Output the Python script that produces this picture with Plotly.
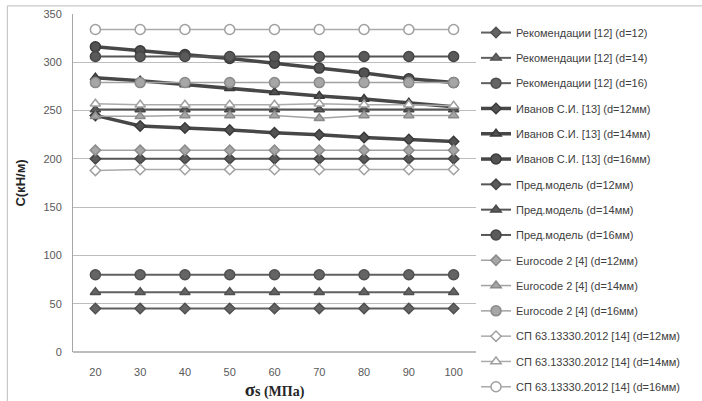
import plotly.graph_objects as go

# Stress in reinforcement, MPa
sigma_s = [20, 30, 40, 50, 60, 70, 80, 90, 100]

# Bond stiffness C, kN/m
rek_12 = [45, 45, 45, 45, 45, 45, 45, 45, 45]
rek_14 = [62, 62, 62, 62, 62, 62, 62, 62, 62]
rek_16 = [80, 80, 80, 80, 80, 80, 80, 80, 80]
ivanov_12 = [245, 234, 232, 230, 227, 225, 222, 220, 218]
ivanov_14 = [284, 281, 277, 273, 269, 265, 262, 258, 254]
ivanov_16 = [316, 312, 308, 304, 299, 294, 289, 283, 279]
model_12 = [200, 200, 200, 200, 200, 200, 200, 200, 200]
model_14 = [251, 251, 251, 251, 251, 251, 251, 251, 251]
model_16 = [306, 306, 306, 306, 306, 306, 306, 306, 306]
ec2_12 = [209, 209, 209, 209, 209, 209, 209, 209, 209]
ec2_14 = [244, 244, 245, 245, 245, 242, 245, 245, 245]
ec2_16 = [279, 279, 279, 279, 279, 279, 279, 279, 279]
sp_12 = [188, 189, 189, 189, 189, 189, 189, 189, 189]
sp_14 = [257, 256, 256, 256, 256, 257, 256, 256, 255]
sp_16 = [334, 334, 334, 334, 334, 334, 334, 334, 334]

names = [
    "Рекомендации [12] (d=12)", "Рекомендации [12] (d=14)", "Рекомендации [12] (d=16)",
    "Иванов С.И. [13] (d=12мм)", "Иванов С.И. [13] (d=14мм)", "Иванов С.И. [13] (d=16мм)",
    "Пред.модель (d=12мм)", "Пред.модель (d=14мм)", "Пред.модель (d=16мм)",
    "Eurocode 2 [4] (d=12мм)", "Eurocode 2 [4] (d=14мм)", "Eurocode 2 [4] (d=16мм)",
    "СП 63.13330.2012 [14] (d=12мм)", "СП 63.13330.2012 [14] (d=14мм)", "СП 63.13330.2012 [14] (d=16мм)",
]
values = [rek_12, rek_14, rek_16, ivanov_12, ivanov_14, ivanov_16,
          model_12, model_14, model_16, ec2_12, ec2_14, ec2_16,
          sp_12, sp_14, sp_16]

symbols = ["diamond", "triangle-up", "circle"]
sizes = [8, 9, 10]

# family styles: (line color, line width, marker fill, marker outline)
styles = [
    ("#606060", 2, "#646464", "#505050"),
    ("#474747", 3.5, "#525252", "#3a3a3a"),
    ("#555555", 2, "#5a5a5a", "#464646"),
    ("#a2a2a2", 1.5, "#a6a6a6", "#8a8a8a"),
    ("#aaaaaa", 1.5, "#ffffff", "#a0a0a0"),
]

fig = go.Figure()
for i, (name, vals) in enumerate(zip(names, values)):
    lc, lw, mf, mo = styles[i // 3]
    fig.add_trace(go.Scatter(
        x=sigma_s, y=vals, name=name, mode="lines+markers",
        legendgroup=name,
        line=dict(color=lc, width=lw),
        marker=dict(symbol=symbols[i % 3], size=sizes[i % 3], color=mf,
                    line=dict(color=mo, width=1.5)),
    ))

tick_font = dict(family="Liberation Sans", size=11, color="#595959")

fig.update_layout(
    width=702, height=401,
    margin=dict(l=73, r=226, t=14, b=49, autoexpand=False),
    paper_bgcolor="white", plot_bgcolor="white",
    showlegend=True,
    legend=dict(
        x=1.0, xanchor="left", y=0.988, yanchor="top",
        font=dict(family="Liberation Sans", size=11, color="#404040"),
        bgcolor="rgba(0,0,0,0)", tracegroupgap=6.3, itemwidth=30,
        maxheight=400,
    ),
    xaxis=dict(
        range=[15, 105], tickvals=sigma_s, ticktext=[str(v) for v in sigma_s],
        showgrid=False, zeroline=False, showline=False, ticks="",
        tickfont=tick_font, ticklabelstandoff=12, automargin=False,
        title=dict(text="<b><span style='font-size:19px'>σ</span>s (МПа)</b>",
                   font=dict(family="Liberation Serif", size=14, color="#262626"),
                   standoff=9),
    ),
    yaxis=dict(
        range=[0, 350], dtick=50, showgrid=True, gridcolor="#bdbdbd", gridwidth=1,
        zeroline=True, zerolinecolor="#bdbdbd", zerolinewidth=1.5,
        showline=True, linecolor="#a6a6a6", linewidth=1, ticks="",
        tickfont=tick_font, ticklabelstandoff=8, automargin=False,
        title=dict(text="<b>C(кН/м)</b>",
                   font=dict(family="Liberation Sans", size=13, color="#262626"),
                   standoff=14),
    ),
    shapes=[dict(type="rect", xref="paper", yref="paper",
                 x0=-0.163, x1=1.6, y0=-0.3, y1=1.024,
                 line=dict(color="#bcbcbc", width=1), layer="below")],
)

fig.write_html("out.html")
